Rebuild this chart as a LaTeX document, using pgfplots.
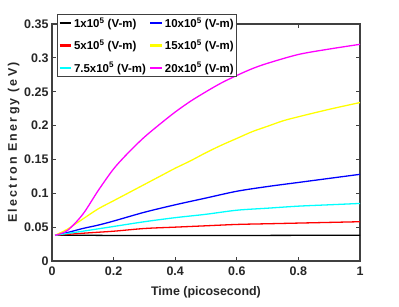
\documentclass[border=0pt]{standalone}
\usepackage{fontspec}
\setmainfont{Liberation Sans}
\usepackage{pgfplots}
\pgfplotsset{compat=1.18}
\definecolor{cMag}{rgb}{1,0,1}
\definecolor{cCyan}{rgb}{0,1,1}
\definecolor{cYel}{rgb}{1,1,0}
\definecolor{cBlue}{rgb}{0,0,1}
\definecolor{cRed}{rgb}{1,0,0}
\definecolor{cBlk}{rgb}{0,0,0}
\begin{document}
\begin{tikzpicture}
\path[use as bounding box] (-52bp,-46bp) rectangle (347bp,261bp);
\begin{axis}[
  scale only axis,
  width=308bp, height=237bp,
  at={(0,0)}, anchor=south west,
  xmin=0, xmax=1, ymin=0, ymax=0.35,
  xtick={0,0.2,0.4,0.6,0.8,1},
  ytick={0,0.05,0.1,0.15,0.2,0.25,0.3,0.35},
  xticklabels={0,0.2,0.4,0.6,0.8,1},
  yticklabels={0,0.05,0.1,0.15,0.2,0.25,0.3,0.35},
  tick align=inside,
  major tick length=4bp,
  axis line style={draw=black!75, line width=1.1pt},
  tick style={draw=black!75, line width=0.9pt},
  ticklabel style={font=\fontsize{12.5}{14}\selectfont\bfseries, text=black!85},
  xticklabel style={yshift=-2bp},
  xlabel={Time (picosecond)},
  ylabel={\addfontfeatures{LetterSpace=18}Electron Energy (eV)},
  label style={font=\fontsize{12.5}{14}\selectfont\bfseries, text=black!85},
  xlabel style={yshift=-4bp},
  ylabel style={yshift=-2bp},
  legend columns=2,
  legend style={at={(0.016,1.042)}, anchor=north west,
    font=\fontsize{11.5}{13}\selectfont\bfseries,
    draw=black!75, line width=1.1pt, fill=white,
    inner sep=1pt, row sep=7pt,
    /tikz/every even column/.append style={column sep=2pt},
    nodes={inner xsep=1.5pt},
    cells={anchor=west}},
  legend image code/.code={\draw[mark repeat=2,mark phase=2,#1] plot coordinates {(0cm,0cm) (0.42cm,0cm)};},
  legend image post style={line width=2.2pt, sharp plot},
  every axis plot/.append style={line width=1.3pt},
]
\addplot[color=cBlk] coordinates {(0.01,0.038)(0.1,0.038)(0.2,0.0377)(0.3,0.0376)(0.4,0.0377)(0.5,0.0378)(0.6,0.0378)(0.7,0.0378)(0.8,0.0379)(0.9,0.0379)(1.0,0.0379)};
\addlegendentry{1x10\textsuperscript{5} (V-m)}
\addplot[color=cBlue, smooth] coordinates {(0.01,0.038)(0.05,0.042)(0.1,0.048)(0.15,0.053)(0.2,0.059)(0.3,0.072)(0.4,0.083)(0.5,0.093)(0.6,0.103)(0.7,0.110)(0.8,0.116)(0.9,0.122)(1.0,0.128)};
\addlegendentry{10x10\textsuperscript{5} (V-m)}
\addplot[color=cRed, smooth] coordinates {(0.01,0.038)(0.1,0.041)(0.2,0.044)(0.3,0.048)(0.4,0.050)(0.5,0.052)(0.6,0.054)(0.7,0.055)(0.8,0.056)(0.9,0.057)(1.0,0.058)};
\addlegendentry{5x10\textsuperscript{5} (V-m)}
\addplot[color=cYel, smooth] coordinates {(0.01,0.038)(0.05,0.047)(0.1,0.062)(0.15,0.077)(0.2,0.089)(0.25,0.101)(0.3,0.113)(0.35,0.125)(0.4,0.137)(0.45,0.148)(0.5,0.160)(0.55,0.171)(0.6,0.181)(0.65,0.191)(0.7,0.199)(0.75,0.207)(0.8,0.213)(0.9,0.224)(1.0,0.234)};
\addlegendentry{15x10\textsuperscript{5} (V-m)}
\addplot[color=cCyan, smooth] coordinates {(0.01,0.038)(0.1,0.044)(0.2,0.051)(0.3,0.058)(0.4,0.064)(0.5,0.069)(0.6,0.075)(0.7,0.078)(0.8,0.081)(0.9,0.083)(1.0,0.085)};
\addlegendentry{7.5x10\textsuperscript{5} (V-m)}
\addplot[color=cMag, smooth] coordinates {(0.01,0.038)(0.05,0.045)(0.1,0.069)(0.15,0.104)(0.2,0.136)(0.25,0.161)(0.3,0.183)(0.35,0.202)(0.4,0.220)(0.45,0.236)(0.5,0.250)(0.55,0.263)(0.6,0.274)(0.65,0.284)(0.7,0.292)(0.8,0.305)(0.9,0.313)(1.0,0.320)};
\addlegendentry{20x10\textsuperscript{5} (V-m)}
\end{axis}
\end{tikzpicture}
\end{document}
